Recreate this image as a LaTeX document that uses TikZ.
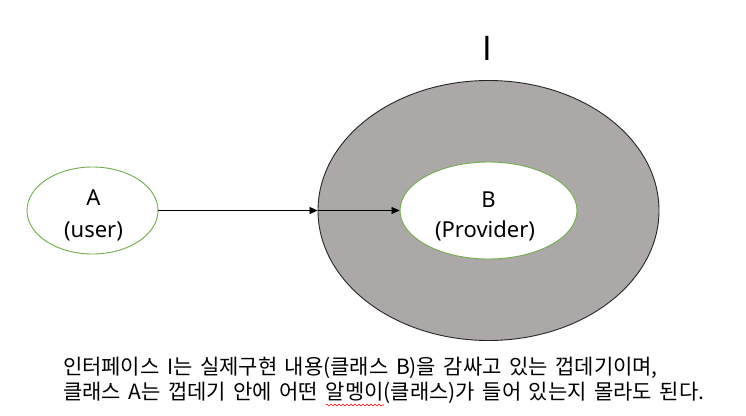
\documentclass[tikz,border=0pt]{standalone}
\usepackage{fontspec}
\setmainfont{Noto Sans}
\newfontfamily\krfont{Noto Sans CJK KR}
\newcommand\mynotefont{\krfont\fontsize{21}{25}\selectfont\spaceskip=7.5pt plus 1pt\relax}
\usetikzlibrary{shapes.geometric,arrows.meta,decorations.pathmorphing}
\definecolor{ogreen}{RGB}{112,173,71}
\definecolor{shellgray}{RGB}{172,168,167}
\begin{document}
\begin{tikzpicture}[x=1pt,y=-1pt,
  greenell/.style={ellipse, draw=ogreen, line width=0.9pt, fill=white, inner sep=0pt},
  shell/.style={ellipse, draw=black!85, line width=0.9pt, fill=shellgray, inner sep=0pt},
  lbl/.style={font=\fontsize{22}{26}\selectfont, inner sep=0pt, anchor=base},
  note/.style={font=\mynotefont, inner sep=0pt, outer sep=0pt, anchor=base west},
  spell/.style={red, line width=0.6pt, decorate, decoration={snake, amplitude=1pt, segment length=4pt}},
  conn/.style={-{Triangle[length=8pt,width=7pt]}, line width=0.8pt, black}]
\useasboundingbox (0,0) rectangle (746,415);
\node[greenell, minimum width=131pt, minimum height=87pt] (A) at (92.5,210.5) {};
\node[shell, minimum width=341pt, minimum height=260pt] (I) at (488.5,210.5) {};
\node[greenell, minimum width=177pt, minimum height=97pt] (B) at (488.5,210.5) {};
\draw[conn] (A.east) -- (I.west);
\draw[conn] (I.west) -- (B.west);
\node[lbl] (Atitle) at (93.5,205) {A};
\node[lbl] (Auser) at (93.5,237) {(user)};
\node[lbl] (Btitle) at (488.5,207) {B};
\node[lbl] (Bprov) at (485,237) {(Provider)};
\node[font=\krfont\fontsize{33}{40}\selectfont, inner sep=0pt, anchor=base] (Ilabel) at (487.5,60) {I};
\node[note] (note1) at (63,374) {인터페이스 I는 실제구현 내용(클래스 B)을 감싸고 있는 껍데기이며,};
\node[note] (note2a) at (63,399) {클래스 A는 껍데기 안에 어떤\hspace*{7.5pt}};
\node[note] (note2b) at (note2a.base east) {알멩이};
\node[note] (note2c) at (note2b.base east) {(클래스)가 들어 있는지 몰라도 된다.};
\draw[spell] ([yshift=-6pt]note2b.base west) -- ([yshift=-6pt]note2b.base east);
\end{tikzpicture}
\end{document}
